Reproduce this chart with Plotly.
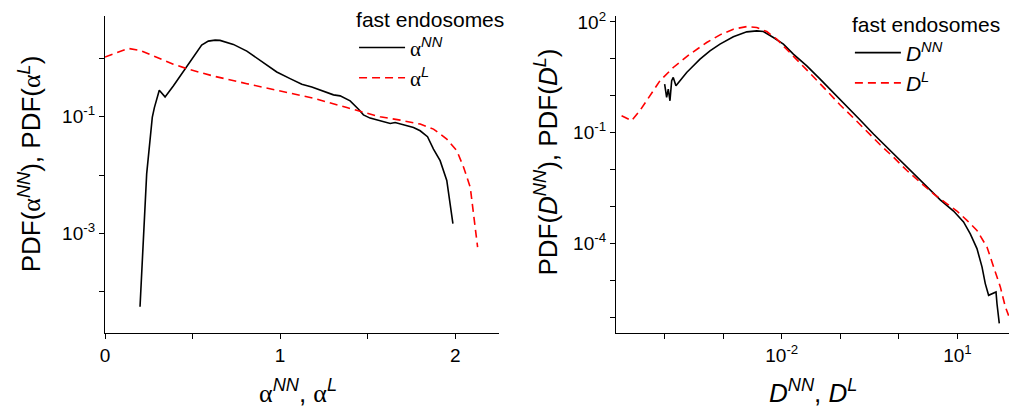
import plotly.graph_objects as go

# ---- Left panel: PDF of alpha ----
alpha_nn_x = [0.2, 0.238, 0.27, 0.282, 0.31, 0.343, 0.39, 0.448, 0.505, 0.552, 0.59, 0.629, 0.657,
              0.733, 0.81, 0.886, 0.981, 1.057, 1.124, 1.181, 1.248, 1.305, 1.343, 1.4, 1.448, 1.476,
              1.514, 1.571, 1.629, 1.657, 1.705, 1.762, 1.8, 1.842, 1.876, 1.914, 1.952, 1.987]
alpha_nn_y = [5.5e-5, 0.0105, 0.098, 0.144, 0.286, 0.22, 0.339, 0.61, 1.1, 1.70, 1.99, 2.07, 2.05,
              1.75, 1.34, 0.93, 0.587, 0.452, 0.362, 0.326, 0.271, 0.238, 0.229, 0.188, 0.135, 0.108,
              0.095, 0.0855, 0.077, 0.08, 0.073, 0.0657, 0.0576, 0.0455, 0.028, 0.0177, 0.0081, 0.00147]

alpha_l_x = [0.0, 0.133, 0.2, 0.295, 0.39, 0.467, 0.619, 0.81, 1.0, 1.19, 1.381, 1.457, 1.571,
             1.686, 1.8, 1.876, 1.952, 2.01, 2.048, 2.086, 2.105, 2.128]
alpha_l_y = [1.06, 1.49, 1.38, 1.06, 0.80, 0.67, 0.50, 0.37, 0.278, 0.209, 0.144, 0.123, 0.1,
             0.0877, 0.075, 0.0615, 0.0415, 0.026, 0.0136, 0.0062, 0.0022, 0.00058]

# ---- Right panel: PDF of D ----
d_nn_logx = [-4.0, -3.966, -3.938, -3.909, -3.88, -3.853, -3.807, -3.738, -3.624, -3.539, -3.396,
             -3.226, -3.055, -2.827, -2.598, -2.427, -2.314, -2.143, -1.972, -1.802, -1.573, -1.345,
             -1.118, -0.889, -0.662, -0.434, -0.206, 0.022, 0.25, 0.479, 0.706, 0.933, 1.104, 1.219,
             1.333, 1.419, 1.475, 1.532, 1.618, 1.658, 1.675, 1.714]
d_nn_y = [2.07, 0.9, 1.51, 0.73, 2.54, 3.13, 1.86, 2.54, 4.27, 5.82, 9.8,
          16.4, 25, 39.4, 53.7, 57.1, 54.8, 37.8, 25, 13.4, 6.46, 2.82,
          1.23, 0.5, 0.22, 0.092, 0.040, 0.0182, 0.0076, 0.0033, 0.0015, 0.00075, 0.00038, 0.00018,
          7.2e-5, 2.3e-5, 8.1e-6, 3.9e-6, 4.4e-6, 4.8e-6, 2.3e-6, 6.8e-7]

d_l_logx = [-4.735, -4.564, -4.422, -4.251, -4.08, -3.853, -3.568, -3.282, -3.055, -2.827, -2.598,
            -2.427, -2.256, -2.085, -1.915, -1.687, -1.46, -1.231, -1.003, -0.776, -0.547, -0.32,
            -0.092, 0.137, 0.364, 0.592, 0.821, 0.991, 1.162, 1.333, 1.504, 1.617, 1.732, 1.817, 1.874]
d_l_y = [0.288, 0.211, 0.394, 1.0, 2.54, 5.82, 13.4, 27.6, 44.6, 63.4, 74.8,
         70.3, 54.8, 34.0, 18.3, 7.94, 3.27, 1.36, 0.56, 0.25, 0.106, 0.047,
         0.0215, 0.0094, 0.0045, 0.0022, 0.00118, 0.00075, 0.00042, 0.000224, 7.9e-5, 2.3e-5, 6.6e-6, 1.9e-6, 1.1e-6]

d_nn_x = [10 ** v for v in d_nn_logx]
d_l_x = [10 ** v for v in d_l_logx]

# labelled (major) ticks and unlabelled (minor) ticks
left_xticks = [0, 1, 2]
left_xticktext = ["0", "1", "2"]
left_xminor = [0.5, 1.5]
left_yticks = [0.1, 1e-3]
left_yticktext = ["10<sup>-1</sup>", "10<sup>-3</sup>"]
left_yminor = [1, 0.01, 1e-4]
right_xticks = [1e-2, 10]
right_xticktext = ["10<sup>-2</sup>", "10<sup>1</sup>"]
right_xminor = [1e-4, 1e-3, 1e-1, 1]
right_yticks = [100, 0.1, 1e-4]
right_yticktext = ["10<sup>2</sup>", "10<sup>-1</sup>", "10<sup>-4</sup>"]
right_yminor = [10, 1, 0.01, 1e-3, 1e-5, 1e-6]

FONT = "Liberation Sans, Arial, sans-serif"
A = "<span style='font-family:Liberation Serif'>α</span>"
BLACK = "#000000"
RED = "#ff0000"

fig = go.Figure()
fig.add_trace(go.Scatter(x=alpha_nn_x, y=alpha_nn_y, mode="lines", name=A + "<sup><i>NN</i></sup>",
                         line=dict(color=BLACK, width=1.6), xaxis="x", yaxis="y", legend="legend"))
fig.add_trace(go.Scatter(x=alpha_l_x, y=alpha_l_y, mode="lines", name=A + "<sup><i>L</i></sup>",
                         line=dict(color=RED, width=1.6, dash="8px,5px"), xaxis="x", yaxis="y", legend="legend"))
fig.add_trace(go.Scatter(x=d_nn_x, y=d_nn_y, mode="lines", name="<i>D</i><sup><i>NN</i></sup>",
                         line=dict(color=BLACK, width=1.6), xaxis="x2", yaxis="y2", legend="legend2"))
fig.add_trace(go.Scatter(x=d_l_x, y=d_l_y, mode="lines", name="<i>D</i><sup><i>L</i></sup>",
                         line=dict(color=RED, width=1.6, dash="8px,5px"), xaxis="x2", yaxis="y2", legend="legend2"))

axis_common = dict(showgrid=False, zeroline=False, showline=True, linecolor=BLACK, linewidth=1.3,
                   ticks="outside", ticklen=5, tickwidth=1.2, tickcolor=BLACK,
                   tickfont=dict(family=FONT, size=19, color=BLACK), mirror=False)


def minor(vals):
    return dict(tickmode="array", tickvals=vals, ticks="outside", ticklen=5, tickwidth=1.2,
                tickcolor=BLACK, showgrid=False)


legend_common = dict(xanchor="left", yanchor="top", bgcolor="rgba(0,0,0,0)", itemwidth=46,
                     font=dict(family=FONT, size=21, color=BLACK))

fig.update_layout(
    width=1010, height=407,
    margin=dict(l=105, r=1, t=15, b=74),
    paper_bgcolor="white", plot_bgcolor="white",
    font=dict(family=FONT, color=BLACK),
    xaxis=dict(domain=[0, 0.4358], range=[0, 2.25], tickvals=left_xticks, ticktext=left_xticktext,
               minor=minor(left_xminor), anchor="y", **axis_common),
    yaxis=dict(type="log", range=[-4.71, 0.73], tickvals=left_yticks, ticktext=left_yticktext,
               minor=minor(left_yminor), anchor="x", **axis_common),
    xaxis2=dict(domain=[0.5653, 1], type="log", range=[-4.83, 1.88], tickvals=right_xticks,
                ticktext=right_xticktext, minor=minor(right_xminor), anchor="y2", **axis_common),
    yaxis2=dict(type="log", range=[-6.43, 2.16], tickvals=right_yticks, ticktext=right_yticktext,
                minor=minor(right_yminor), anchor="x2", **axis_common),
    legend=dict(x=0.2755, y=1.047,
                title=dict(text="fast endosomes", font=dict(family=FONT, size=21, color=BLACK)),
                **legend_common),
    legend2=dict(x=0.824, y=1.031,
                 title=dict(text="fast endosomes", font=dict(family=FONT, size=21, color=BLACK)),
                 **legend_common),
    showlegend=True,
)

title_font = dict(family=FONT, size=26, color=BLACK)
fig.add_annotation(text="PDF(" + A + "<sup><i>NN</i></sup>), PDF(" + A + "<sup><i>L</i></sup>)",
                   xref="paper", yref="paper", x=-0.083, y=0.535, textangle=-90, showarrow=False,
                   font=title_font, xanchor="center", yanchor="middle")
fig.add_annotation(text="PDF(<i>D</i><sup><i>NN</i></sup>), PDF(<i>D</i><sup><i>L</i></sup>)",
                   xref="paper", yref="paper", x=0.488, y=0.538, textangle=-90, showarrow=False,
                   font=title_font, xanchor="center", yanchor="middle")
fig.add_annotation(text=A + "<sup><i>NN</i></sup>, " + A + "<sup><i>L</i></sup>", xref="paper", yref="paper",
                   x=0.213, y=-0.186, showarrow=False, font=title_font, xanchor="center", yanchor="middle")
fig.add_annotation(text="<i>D</i><sup><i>NN</i></sup>, <i>D</i><sup><i>L</i></sup>", xref="paper", yref="paper",
                   x=0.783, y=-0.186, showarrow=False, font=title_font, xanchor="center", yanchor="middle")

fig.write_html("out.html")
